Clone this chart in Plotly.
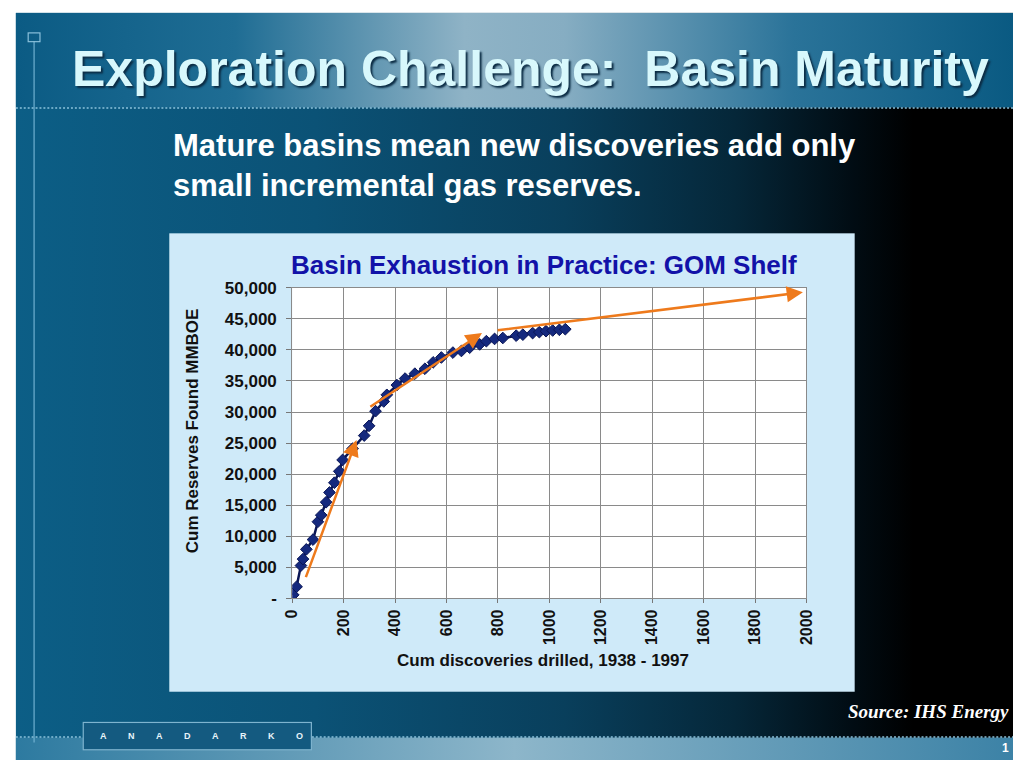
import base64
import plotly.graph_objects as go

# ---------------- data ----------------
discoveries = [4, 17, 34, 42, 55, 81, 100, 113, 132, 145, 164, 183, 196, 235, 280, 299,
               324, 356, 368, 407, 439, 477, 516, 548, 580, 625, 658, 690, 729, 755,
               787, 819, 871, 897, 935, 961, 987, 1013, 1039, 1062]
reserves = [520, 1830, 5240, 6290, 7860, 9430, 12310, 13370, 15460, 17030, 18600, 20440,
            22270, 24100, 26200, 27770, 30130, 31700, 32770, 34340, 35390, 36180, 36970,
            38000, 38790, 39580, 39840, 40360, 40900, 41420, 41780, 41930, 42310, 42470,
            42720, 42880, 43030, 43140, 43250, 43350]

arrow_start_x = [51, 298, 793]
arrow_start_y = [3140, 30700, 43140]
arrow_end_x = [250, 738, 1986]
arrow_end_y = [25500, 42720, 49300]

y_tick_vals = [0, 5000, 10000, 15000, 20000, 25000, 30000, 35000, 40000, 45000, 50000]
y_tick_text = ["-", "5,000", "10,000", "15,000", "20,000", "25,000", "30,000",
               "35,000", "40,000", "45,000", "50,000"]
x_tick_vals = [0, 200, 400, 600, 800, 1000, 1200, 1400, 1600, 1800, 2000]
x_tick_text = ["0", "200", "400", "600", "800", "1000", "1200", "1400", "1600", "1800", "2000"]

slide_title = "Exploration Challenge:  Basin Maturity"
subtitle_lines = ["Mature basins mean new discoveries add only", "small incremental gas reserves."]
chart_title = "Basin Exhaustion in Practice: GOM Shelf"
y_title = "Cum Reserves Found MMBOE"
x_title = "Cum discoveries drilled, 1938 - 1997"
source_text = "Source: IHS Energy"
logo_text = "ANADARKO"
page_no = "1"

# ---------------- layout geometry ----------------
W, H = 1021, 770
PX0, PX1, PY0, PY1 = 288, 811, 286, 604   # plot area in pixels


def px(x):
    return x / W


def py(y):
    return 1 - y / H


svg = f"""<svg xmlns="http://www.w3.org/2000/svg" width="{W}" height="{H}" viewBox="0 0 {W} {H}" preserveAspectRatio="none">
<defs>
<linearGradient id="body" x1="0" y1="0" x2="1" y2="0">
<stop offset="0" stop-color="#0c5e86"/>
<stop offset="0.3" stop-color="#0b5276"/>
<stop offset="0.55" stop-color="#093f5c"/>
<stop offset="0.72" stop-color="#052739"/>
<stop offset="0.84" stop-color="#010c13"/>
<stop offset="0.9" stop-color="#000000"/>
<stop offset="1" stop-color="#000000"/>
</linearGradient>
<linearGradient id="head" x1="0" y1="0" x2="1" y2="0">
<stop offset="0" stop-color="#0b5b84"/>
<stop offset="0.22" stop-color="#1f6d94"/>
<stop offset="0.45" stop-color="#8fb3c6"/>
<stop offset="0.55" stop-color="#86adc2"/>
<stop offset="0.78" stop-color="#2a7399"/>
<stop offset="1" stop-color="#0a5a82"/>
</linearGradient>
<linearGradient id="foot" x1="0" y1="0" x2="1" y2="0">
<stop offset="0" stop-color="#2d7aa0"/>
<stop offset="0.5" stop-color="#8db6ca"/>
<stop offset="1" stop-color="#3c82a6"/>
</linearGradient>
</defs>
<rect x="0" y="0" width="{W}" height="{H}" fill="#ffffff"/>
<rect x="7" y="4" width="{W-7}" height="{H-4}" fill="url(#body)"/>
<rect x="7" y="4" width="{W-7}" height="97" fill="url(#head)"/>
<rect x="7" y="747" width="{W-7}" height="23" fill="url(#foot)"/>
<line x1="7" y1="101.5" x2="{W}" y2="101.5" stroke="#8cc2dc" stroke-width="1.5" stroke-dasharray="2,2"/>
<line x1="7" y1="746.5" x2="75" y2="746.5" stroke="#8cc2dc" stroke-width="1.5" stroke-dasharray="2,2"/>
<line x1="308" y1="746.5" x2="{W}" y2="746.5" stroke="#8cc2dc" stroke-width="1.5" stroke-dasharray="2,2"/>
<line x1="25.5" y1="33" x2="25.5" y2="752" stroke="#72b2d2" stroke-width="1.2"/>
<rect x="19.5" y="24.5" width="12" height="9" fill="none" stroke="#8cc2dc" stroke-width="1.2"/>
<rect x="75.5" y="731.5" width="232" height="28" fill="#145a80" stroke="#7fb4cf" stroke-width="1.2"/>
<rect x="163" y="230" width="697" height="470" fill="#cfeaf9"/>
<rect x="{PX0}" y="{PY0}" width="{PX1-PX0}" height="{PY1-PY0}" fill="#ffffff"/>
</svg>"""
svg_uri = "data:image/svg+xml;base64," + base64.b64encode(svg.encode()).decode()

fig = go.Figure()

fig.add_trace(go.Scatter(
    x=discoveries, y=reserves, mode="lines+markers",
    line=dict(color="#0a1656", width=2.5),
    marker=dict(symbol="diamond", size=9, color="#15297e",
                line=dict(color="#0a1656", width=1)),
    showlegend=False, hoverinfo="skip",
))

sans = "Liberation Sans, Arial, sans-serif"

annotations = []
for sx, sy, ex, ey in zip(arrow_start_x, arrow_start_y, arrow_end_x, arrow_end_y):
    annotations.append(dict(
        x=ex, y=ey, ax=sx, ay=sy, xref="x", yref="y", axref="x", ayref="y",
        text="", showarrow=True, arrowhead=2, arrowsize=1.3, arrowwidth=2.5,
        arrowcolor="#ee7a1c",
    ))

annotations += [
    dict(text=slide_title, x=px(62), y=py(62), xref="paper", yref="paper",
         xanchor="left", yanchor="middle", showarrow=False,
         font=dict(family=sans, size=50, color="#d8f8fc", weight="bold",
                   shadow="2px 2px 2px #0b2c44")),
    dict(text=subtitle_lines[0], x=px(165), y=py(140), xref="paper", yref="paper",
         xanchor="left", yanchor="middle", showarrow=False,
         font=dict(family=sans, size=31, color="#ffffff", weight="bold")),
    dict(text=subtitle_lines[1], x=px(165), y=py(181), xref="paper", yref="paper",
         xanchor="left", yanchor="middle", showarrow=False,
         font=dict(family=sans, size=31, color="#ffffff", weight="bold")),
    dict(text=chart_title, x=px(544), y=py(262), xref="paper", yref="paper",
         xanchor="center", yanchor="middle", showarrow=False,
         font=dict(family=sans, size=26, color="#1212a8", weight="bold")),
    dict(text=y_title, x=px(186), y=py(432), xref="paper", yref="paper",
         xanchor="center", yanchor="middle", showarrow=False, textangle=-90,
         font=dict(family=sans, size=17, color="#111111", weight="bold")),
    dict(text=x_title, x=px(543), y=py(668), xref="paper", yref="paper",
         xanchor="center", yanchor="middle", showarrow=False,
         font=dict(family=sans, size=17, color="#111111", weight="bold")),
    dict(text=source_text, x=px(851), y=py(720), xref="paper", yref="paper",
         xanchor="left", yanchor="middle", showarrow=False,
         font=dict(family="Liberation Serif, Times New Roman, serif", size=19,
                   color="#ffffff", weight="bold", style="italic")),
    dict(text=page_no, x=px(1013), y=py(758), xref="paper", yref="paper",
         xanchor="center", yanchor="middle", showarrow=False,
         font=dict(family=sans, size=12, color="#ffffff", weight="bold")),
]
for i, ch in enumerate(logo_text):
    annotations.append(dict(
        text=ch, x=px(96 + i * 28.5), y=py(745), xref="paper", yref="paper",
        xanchor="center", yanchor="middle", showarrow=False,
        font=dict(family=sans, size=9, color="#e8f4fa", weight="bold")))

fig.update_layout(
    width=W, height=H, autosize=False,
    margin=dict(l=0, r=0, t=0, b=0, pad=0),
    paper_bgcolor="#ffffff", plot_bgcolor="rgba(0,0,0,0)",
    images=[dict(source=svg_uri, xref="paper", yref="paper", x=0, y=1,
                 sizex=1, sizey=1, sizing="stretch", xanchor="left", yanchor="top",
                 layer="below")],
    annotations=annotations,
    xaxis=dict(
        domain=[px(PX0), px(PX1)], range=[0, 2000],
        tickvals=x_tick_vals, ticktext=x_tick_text, tickangle=-90,
        tickfont=dict(family=sans, size=16, color="#111111", weight="bold"),
        showgrid=True, gridcolor="#8a8a8a", gridwidth=1,
        showline=True, linecolor="#8a8a8a", linewidth=1, mirror=True,
        ticks="outside", ticklen=4, tickcolor="#777777", zeroline=False,
        fixedrange=True,
    ),
    yaxis=dict(
        domain=[py(PY1), py(PY0)], range=[0, 50000],
        tickvals=y_tick_vals, ticktext=y_tick_text,
        tickfont=dict(family=sans, size=17, color="#111111", weight="bold"),
        showgrid=True, gridcolor="#8a8a8a", gridwidth=1,
        showline=True, linecolor="#8a8a8a", linewidth=1, mirror=True,
        ticks="outside", ticklen=5, tickcolor="#777777", zeroline=False,
        ticklabelstandoff=6, fixedrange=True,
    ),
)

fig.write_html("out.html", config={"displayModeBar": False},
               post_script="document.body.style.margin='0';document.body.style.overflow='hidden';")
